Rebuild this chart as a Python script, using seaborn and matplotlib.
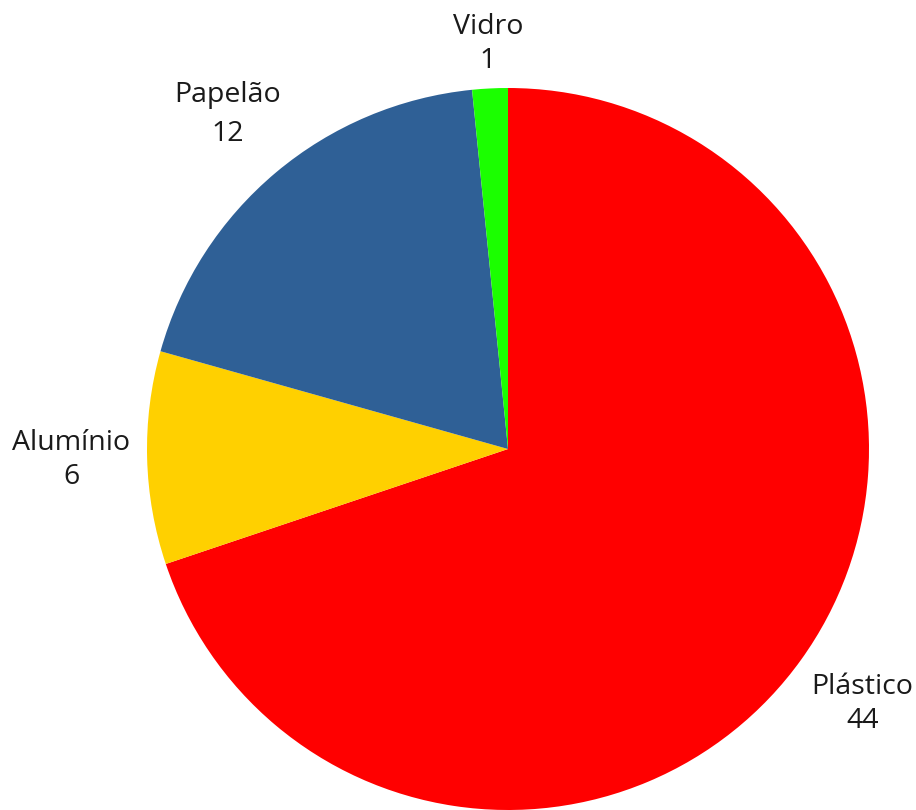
import numpy as np
import matplotlib
matplotlib.use("Agg")
import matplotlib.pyplot as plt
import seaborn as sns

# data
categories = ["Plástico", "Alumínio", "Papelão", "Vidro"]
values = [44, 6, 12, 1]
colors = ["#FF0000", "#FFD000", "#2F6096", "#1BFF00"]
label_dist = [1.21, 1.21, 1.21, 1.123]
line_gap = [1.3, 1.3, 1.55, 1.3]

sns.set_theme(style="white")
plt.rcParams["font.family"] = ["Open Sans", "DejaVu Sans"]

W, H = 916, 810
fig = plt.figure(figsize=(W / 100, H / 100), dpi=100)
ax = fig.add_axes([0, 0, 1, 1])

cx, cy, r = 508, H - 449, 361
wedges, _ = ax.pie(values, colors=colors, startangle=90, counterclock=False,
                   radius=r, center=(cx, cy), frame=True,
                   wedgeprops=dict(linewidth=0))
ax.set_xlim(0, W)
ax.set_ylim(0, H)
ax.axis("off")

for w, name, val, d, ls in zip(wedges, categories, values, label_dist, line_gap):
    ang = np.deg2rad((w.theta1 + w.theta2) / 2)
    x = cx + r * d * np.cos(ang)
    y = cy + r * d * np.sin(ang)
    ax.text(x, y, f"{name}\n{val}", ha="center", va="center",
            fontsize=20.5, color="#1a1a1a", linespacing=ls,
            multialignment="center")

plt.savefig("out.png", dpi=100)
plt.close()
